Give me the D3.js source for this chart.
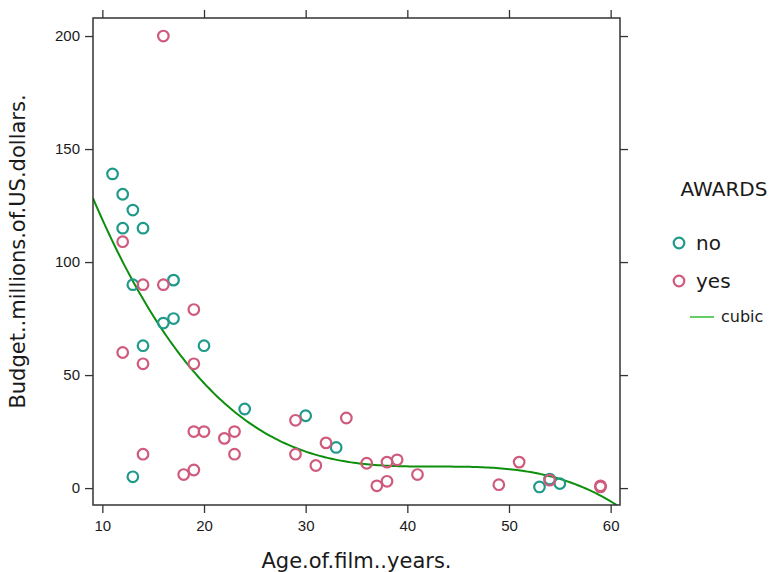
<!DOCTYPE html>
<html>
<head>
<meta charset="utf-8">
<script src="https://cdn.jsdelivr.net/npm/d3@7/dist/d3.min.js"></script>
<style>
  body { margin: 0; background: #fff; }
  svg { display: block; font-family: "DejaVu Sans", Verdana, sans-serif; }
</style>
</head>
<body>
<svg id="chart" width="770" height="572"></svg>
<script>
// Films without awards
const noAge    = [11, 12, 13, 12, 14, 13, 17, 16, 17, 14, 20, 24, 13, 30, 33, 53, 54, 55];
const noBudget = [139, 130, 123, 115, 115, 90, 92, 73, 75, 63, 63, 35, 5, 32, 18, 0.5, 4, 2];

// Films with awards
const yesAge    = [16, 12, 14, 16, 19, 12, 14, 19, 19, 20, 22, 23, 14, 23, 18, 19, 29, 29, 32, 34, 31, 36, 37, 38, 38, 39, 41, 49, 51, 54, 59, 59];
const yesBudget = [200, 109, 90, 90, 79, 60, 55, 55, 25, 25, 22, 25, 15, 15, 6, 8, 30, 15, 20, 31, 10, 11, 1, 11.5, 3, 12.5, 6, 1.5, 11.5, 3.5, 0.5, 1];

const groupNames  = ["no", "yes"];
const groupColors = ["#1f9a8a", "#cf5a7c"];
const fitColor = "#0d8f0d";

const xTicks = [10, 20, 30, 40, 50, 60];
const yTicks = [0, 50, 100, 150, 200];

const svg = d3.select("#chart");
const pLeft = 93, pRight = 620, pTop = 18, pBottom = 505;

const allAge = noAge.concat(yesAge);
const allBudget = noBudget.concat(yesBudget);

// padded extents, 4% each side
function padded(vals) {
  const [a, b] = d3.extent(vals);
  const p = (b - a) * 0.04;
  return [a - p, b + p];
}
const x = d3.scaleLinear().domain(padded(allAge)).range([pLeft, pRight]);
const y = d3.scaleLinear().domain(padded(allBudget)).range([pBottom, pTop]);

// least-squares cubic through all films
function cubicFit(xs, ys) {
  const m = d3.mean(xs), s = d3.deviation(xs);
  const n = 4;
  const A = Array.from({length: n}, () => new Array(n + 1).fill(0));
  xs.forEach((xv, i) => {
    const t = (xv - m) / s;
    const p = [1, t, t * t, t * t * t];
    for (let r = 0; r < n; r++) {
      for (let c = 0; c < n; c++) A[r][c] += p[r] * p[c];
      A[r][n] += p[r] * ys[i];
    }
  });
  for (let c = 0; c < n; c++) {
    let piv = c;
    for (let r = c + 1; r < n; r++) if (Math.abs(A[r][c]) > Math.abs(A[piv][c])) piv = r;
    [A[c], A[piv]] = [A[piv], A[c]];
    for (let r = 0; r < n; r++) {
      if (r === c) continue;
      const f = A[r][c] / A[c][c];
      for (let k = c; k <= n; k++) A[r][k] -= f * A[c][k];
    }
  }
  const b = A.map((row, i) => row[n] / row[i]);
  return xv => { const t = (xv - m) / s; return b[0] + b[1] * t + b[2] * t * t + b[3] * t * t * t; };
}
const fit = cubicFit(allAge, allBudget);

svg.append("clipPath").attr("id", "panel")
  .append("rect").attr("x", pLeft).attr("y", pTop).attr("width", pRight - pLeft).attr("height", pBottom - pTop);

// fitted curve
const [x0, x1] = x.domain();
const curvePts = d3.range(0, 201).map(i => { const xv = x0 + (x1 - x0) * i / 200; return [xv, fit(xv)]; });
svg.append("path")
  .attr("clip-path", "url(#panel)")
  .attr("d", d3.line().x(d => x(d[0])).y(d => y(d[1]))(curvePts))
  .attr("fill", "none").attr("stroke", fitColor).attr("stroke-width", 2);

// points
const groups = [
  {age: noAge, budget: noBudget, color: groupColors[0]},
  {age: yesAge, budget: yesBudget, color: groupColors[1]}
];
groups.forEach(g => {
  svg.append("g").selectAll("circle")
    .data(g.age.map((a, i) => [a, g.budget[i]]))
    .join("circle")
    .attr("cx", d => x(d[0])).attr("cy", d => y(d[1])).attr("r", 5.3)
    .attr("fill", "none").attr("stroke", g.color).attr("stroke-width", 2.2);
});

// axes on all four sides, ticks outward
const axisCol = "#333";
function styleAxis(g, labels) {
  g.select(".domain").remove();
  g.selectAll(".tick line").attr("stroke", axisCol).attr("stroke-width", 1.3);
  if (!labels) g.selectAll(".tick text").remove();
  else g.selectAll(".tick text").attr("fill", "#1a1a1a").style("font-size", "15px");
}
svg.append("g").attr("transform", `translate(0,${pBottom})`)
  .call(d3.axisBottom(x).tickValues(xTicks).tickSize(8).tickPadding(7))
  .call(g => styleAxis(g, true));
svg.append("g").attr("transform", `translate(0,${pTop})`)
  .call(d3.axisTop(x).tickValues(xTicks).tickSize(8))
  .call(g => styleAxis(g, false));
svg.append("g").attr("transform", `translate(${pLeft},0)`)
  .call(d3.axisLeft(y).tickValues(yTicks).tickSize(8).tickPadding(5))
  .call(g => styleAxis(g, true));
svg.append("g").attr("transform", `translate(${pRight},0)`)
  .call(d3.axisRight(y).tickValues(yTicks).tickSize(8))
  .call(g => styleAxis(g, false));

svg.append("rect").attr("x", pLeft).attr("y", pTop).attr("width", pRight - pLeft).attr("height", pBottom - pTop)
  .attr("fill", "none").attr("stroke", axisCol).attr("stroke-width", 1.5);

// axis titles
svg.append("text").attr("x", (pLeft + pRight) / 2).attr("y", 568)
  .attr("text-anchor", "middle").style("font-size", "21px").attr("fill", "#1a1a1a")
  .text("Age.of.film..years.");
svg.append("text").attr("transform", `translate(25,${(pTop + pBottom) / 2 - 10}) rotate(-90)`)
  .attr("text-anchor", "middle").style("font-size", "21px").attr("fill", "#1a1a1a")
  .text("Budget..millions.of.US.dollars.");

// legend
const lg = svg.append("g");
lg.append("text").attr("x", 724).attr("y", 196).attr("text-anchor", "middle")
  .style("font-size", "20px").attr("fill", "#1a1a1a").text("AWARDS");
groupNames.forEach((name, i) => {
  const cy = 243 + i * 38;
  lg.append("circle").attr("cx", 679).attr("cy", cy).attr("r", 5.3)
    .attr("fill", "none").attr("stroke", groupColors[i]).attr("stroke-width", 2.2);
  lg.append("text").attr("x", 696).attr("y", cy + 7).style("font-size", "20px").attr("fill", "#1a1a1a").text(name);
});
lg.append("line").attr("x1", 690).attr("x2", 714).attr("y1", 317).attr("y2", 317)
  .attr("stroke", "#33bb33").attr("stroke-width", 1.5);
lg.append("text").attr("x", 721).attr("y", 322).style("font-size", "16px").attr("fill", "#1a1a1a").text("cubic");
</script>
</body>
</html>
